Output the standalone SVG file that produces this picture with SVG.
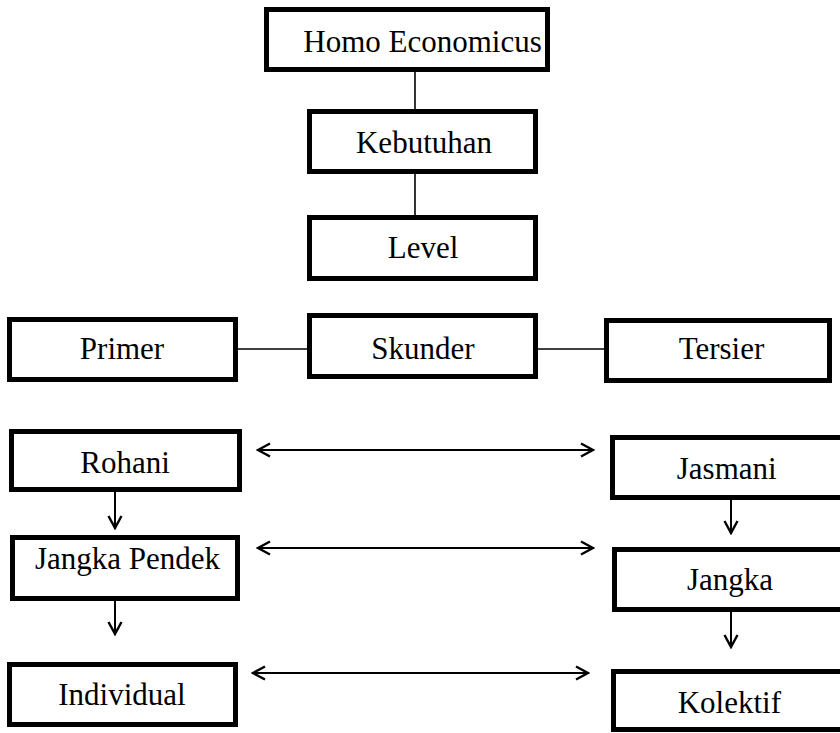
<svg xmlns="http://www.w3.org/2000/svg" width="840" height="733" viewBox="0 0 840 733">
  <style>
    .box { fill: #ffffff; stroke: #000000; stroke-width: 5; }
    .lbl { font-family: "Liberation Serif", "Times New Roman", serif; font-size: 31px; fill: #000000; text-anchor: middle; }
    .link { stroke: #000000; stroke-width: 1.6; fill: none; }
    .arrow { stroke: #000000; stroke-width: 2; fill: none; }
  </style>
  <defs>
    <marker id="chev" markerUnits="userSpaceOnUse" viewBox="0 0 16 16" markerWidth="16" markerHeight="16" refX="14" refY="8" orient="auto-start-reverse">
      <path d="M2,1.5 L14,8 L2,14.5" fill="none" stroke="#000000" stroke-width="2.4"/>
    </marker>
  </defs>
  <rect width="840" height="733" fill="#ffffff"/>

  <!-- connectors -->
  <g id="connectors">
    <line class="link" x1="415" y1="72" x2="415" y2="109"/>
    <line class="link" x1="415" y1="174" x2="415" y2="215"/>
    <line class="link" x1="238" y1="349" x2="307" y2="349"/>
    <line class="link" x1="538" y1="349" x2="604" y2="349"/>
    <line class="arrow" x1="258" y1="450" x2="593" y2="450" marker-start="url(#chev)" marker-end="url(#chev)"/>
    <line class="arrow" x1="258" y1="548" x2="593" y2="548" marker-start="url(#chev)" marker-end="url(#chev)"/>
    <line class="arrow" x1="253" y1="673" x2="588" y2="673" marker-start="url(#chev)" marker-end="url(#chev)"/>
    <line class="arrow" x1="115" y1="492" x2="115" y2="528" marker-end="url(#chev)"/>
    <line class="arrow" x1="115" y1="601" x2="115" y2="634" marker-end="url(#chev)"/>
    <line class="arrow" x1="731" y1="500" x2="731" y2="533" marker-end="url(#chev)"/>
    <line class="arrow" x1="731" y1="612" x2="731" y2="647" marker-end="url(#chev)"/>
  </g>

  <!-- top chain -->
  <g id="homo-economicus">
    <rect class="box" x="266.5" y="9.5" width="281" height="60"/>
    <text class="lbl" x="422.5" y="52">Homo Economicus</text>
  </g>
  <g id="kebutuhan">
    <rect class="box" x="309.5" y="111.5" width="226" height="60"/>
    <text class="lbl" x="424" y="153">Kebutuhan</text>
  </g>
  <g id="level">
    <rect class="box" x="309.5" y="217.5" width="226" height="61"/>
    <text class="lbl" x="423" y="258">Level</text>
  </g>

  <!-- level row -->
  <g id="primer">
    <rect class="box" x="9.5" y="319.5" width="226" height="60"/>
    <text class="lbl" x="122" y="359">Primer</text>
  </g>
  <g id="skunder">
    <rect class="box" x="309.5" y="315.5" width="226" height="61"/>
    <text class="lbl" x="423" y="359">Skunder</text>
  </g>
  <g id="tersier">
    <rect class="box" x="606.5" y="320.5" width="223" height="60"/>
    <text class="lbl" x="721.5" y="359">Tersier</text>
  </g>

  <!-- left column -->
  <g id="rohani">
    <rect class="box" x="11.5" y="431.5" width="228" height="58"/>
    <text class="lbl" x="125" y="473">Rohani</text>
  </g>
  <g id="jangka-pendek">
    <rect class="box" x="12.5" y="537.5" width="225" height="61"/>
    <text class="lbl" x="127.5" y="569">Jangka Pendek</text>
  </g>
  <g id="individual">
    <rect class="box" x="9.5" y="664.5" width="226" height="60"/>
    <text class="lbl" x="122" y="705">Individual</text>
  </g>

  <!-- right column -->
  <g id="jasmani">
    <rect class="box" x="612.5" y="437.5" width="235" height="60"/>
    <text class="lbl" x="726.7" y="479">Jasmani</text>
  </g>
  <g id="jangka">
    <rect class="box" x="614.5" y="549.5" width="233" height="60"/>
    <text class="lbl" x="730" y="590">Jangka</text>
  </g>
  <g id="kolektif">
    <rect class="box" x="613.5" y="671.5" width="234" height="58"/>
    <text class="lbl" x="729.3" y="712.5">Kolektif</text>
  </g>
</svg>
